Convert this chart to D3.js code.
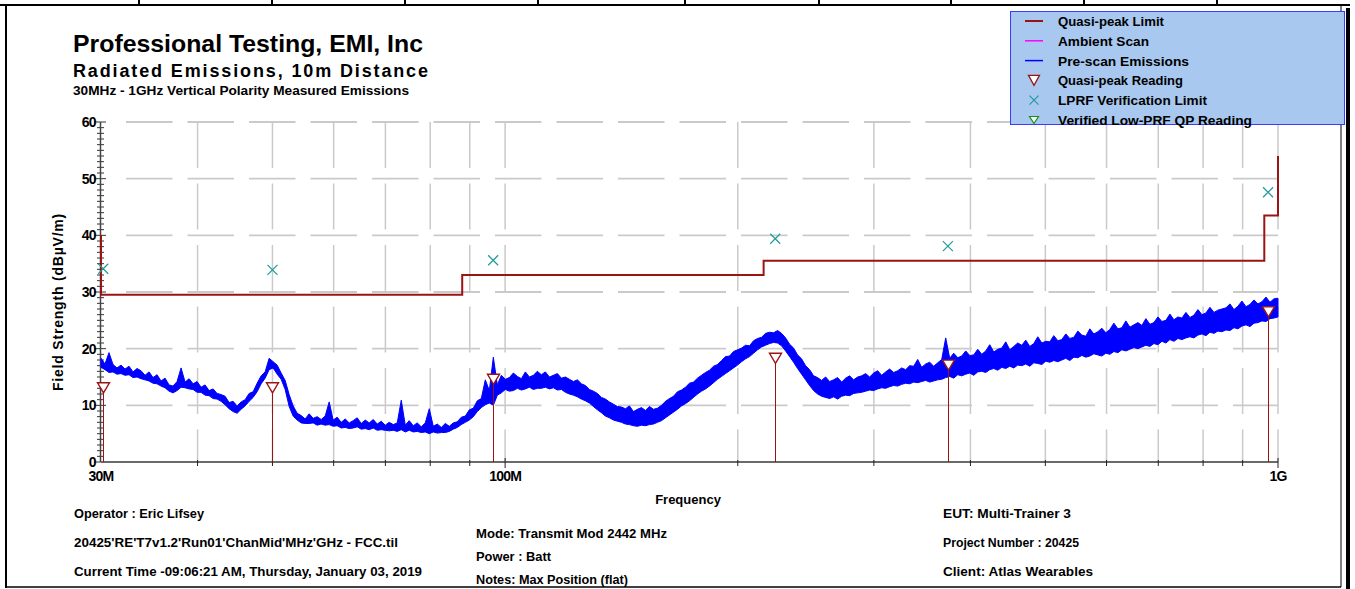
<!DOCTYPE html>
<html>
<head>
<meta charset="utf-8">
<script src="https://cdn.jsdelivr.net/npm/d3@7"></script>
<style>
  body { margin: 0; background: #fff; }
  svg { display: block; }
  text { font-family: "Liberation Sans", Arial, sans-serif; font-weight: bold; fill: #000; }
</style>
</head>
<body>
<svg id="chart" width="1355" height="589"></svg>
<script>
// ---- Data -------------------------------------------------------------
// Quasi-peak limit (step function), MHz / dBuV/m
const limitFreqMHz = [30, 30, 88, 88, 216, 216, 960, 960, 1000, 1000];
const limitDb      = [40, 29.5, 29.5, 33, 33, 35.5, 35.5, 43.5, 43.5, 54];

// Final measurement frequencies (MHz)
const readingFreqMHz = [30.2, 50, 96.5, 223.6, 374, 970.8];
// Quasi-peak readings (dBuV/m)
const qpReadingDb = [13.1, 13.1, 14.6, 18.3, 17.1, 26.5];
// LPRF verification limit at each reading (dBuV/m)
const lprfLimitDb = [34.1, 33.9, 35.6, 39.4, 38.1, 47.6];

// Pre-scan sweep 30 MHz - 1 GHz, peak-detector display bins (log-spaced):
// highest and lowest level seen in each bin (dBuV/m)
const scanStartMHz = 30, scanStopMHz = 1000;
const prescanMaxDb = [
  18.3, 17.3, 19.3, 17.2, 16.6, 17.1, 16.4, 16.9, 15.9, 16.5,
  16.1, 15.3, 15.9, 14.9, 15.4, 14.3, 14.8, 13.6, 13.4, 14.2,
  16.6, 14.1, 14.7, 13.8, 14.2, 13.2, 13.6, 12.6, 12.9, 12.1,
  11.9, 11.6, 10.5, 10.7, 9.9, 10.6, 11.0, 12.1, 12.4, 13.9,
  15.2, 15.9, 18.3, 17.7, 17.1, 15.7, 14.4, 11.9, 9.9, 8.6,
  8.2, 7.6, 8.5, 7.7, 8.0, 7.5, 8.1, 10.6, 7.4, 7.9,
  7.0, 7.6, 6.9, 7.3, 7.8, 6.8, 7.4, 6.9, 7.5, 6.7,
  7.2, 6.5, 7.0, 6.6, 6.9, 10.9, 6.5, 7.3, 6.4, 6.9,
  6.2, 6.9, 9.4, 6.3, 6.7, 6.1, 6.8, 6.3, 6.9, 7.1,
  7.9, 8.1, 9.2, 9.5, 10.8, 11.2, 14.5, 12.6, 18.5, 13.6,
  15.3, 14.6, 14.9, 15.7, 15.1, 14.7, 15.9, 15.0, 15.3, 16.0,
  15.4, 15.9, 15.0, 15.3, 15.6, 14.8, 15.0, 14.6, 14.2, 14.5,
  13.8, 13.5, 12.8, 12.5, 12.1, 11.4, 11.1, 10.6, 10.2, 9.8,
  9.7, 9.4, 9.9, 8.9, 9.3, 9.6, 9.1, 9.8, 9.3, 9.5,
  10.0, 10.7, 11.2, 11.6, 12.4, 12.7, 13.2, 13.9, 14.1, 14.8,
  15.3, 15.8, 16.2, 16.9, 17.2, 17.9, 18.6, 18.7, 19.5, 19.8,
  20.1, 20.6, 20.5, 21.4, 21.8, 22.0, 22.7, 22.9, 22.8, 23.2,
  22.7, 21.9, 20.8, 20.1, 18.9, 18.2, 17.0, 16.3, 15.2, 14.9,
  14.4, 15.0, 14.2, 14.5, 14.9, 14.1, 14.8, 15.2, 14.5, 15.0,
  15.2, 15.6, 15.0, 15.7, 16.1, 15.3, 15.9, 16.4, 15.8, 16.1,
  16.6, 16.3, 17.0, 16.9, 18.1, 16.7, 17.3, 17.6, 16.9, 17.5,
  18.1, 21.9, 18.3, 19.2, 18.4, 18.7, 19.6, 18.8, 18.9, 19.9,
  19.0, 19.6, 20.7, 19.4, 19.9, 20.1, 21.2, 19.8, 20.4, 21.0,
  20.6, 21.5, 20.4, 20.9, 22.1, 21.0, 21.3, 21.2, 22.3, 21.4,
  21.6, 22.6, 21.8, 22.0, 23.1, 22.4, 22.2, 23.5, 22.6, 23.0,
  23.6, 22.8, 23.4, 24.5, 23.5, 23.7, 24.9, 23.8, 24.2, 24.6,
  24.1, 25.3, 24.3, 24.6, 25.6, 24.8, 25.0, 26.1, 25.1, 25.6,
  25.4, 26.4, 25.5, 25.9, 26.9, 26.0, 26.3, 27.3, 26.4, 26.8,
  27.0, 27.2, 27.9, 26.9, 27.5, 28.4, 27.4, 27.8, 28.6, 27.9,
  28.3, 29.1, 28.2, 28.8, 28.9
];
const prescanMinDb = [
  16.7, 16.3, 15.8, 15.9, 15.5, 15.6, 15.3, 15.4, 14.9, 15.0,
  14.7, 14.5, 14.3, 13.9, 13.8, 13.4, 13.1, 12.5, 12.2, 12.6,
  13.2, 13.1, 12.9, 12.8, 12.3, 12.3, 11.8, 11.7, 11.2, 11.1,
  10.7, 10.1, 9.4, 8.9, 8.6, 9.3, 9.9, 10.7, 11.4, 12.4,
  13.8, 14.8, 16.3, 16.6, 15.5, 14.6, 12.8, 9.8, 8.1, 7.4,
  6.9, 6.8, 6.8, 6.9, 6.5, 6.7, 6.5, 6.6, 6.3, 6.4,
  6.0, 6.1, 5.9, 6.0, 6.2, 5.8, 5.9, 5.7, 6.0, 5.6,
  5.7, 5.6, 5.5, 5.6, 5.4, 5.7, 5.3, 5.6, 5.3, 5.4,
  5.2, 5.3, 5.0, 5.3, 5.1, 5.2, 5.2, 5.4, 5.8, 6.1,
  6.6, 7.0, 7.4, 8.0, 8.9, 9.6, 10.1, 10.4, 10.0, 11.8,
  12.2, 12.8, 12.5, 12.6, 13.0, 12.7, 12.9, 13.2, 12.8, 13.0,
  13.0, 13.2, 12.9, 13.1, 12.7, 12.8, 12.3, 12.0, 11.8, 11.5,
  11.1, 10.8, 10.4, 9.8, 9.2, 8.7, 8.1, 7.8, 7.4, 7.2,
  7.0, 6.7, 6.6, 6.4, 6.3, 6.5, 6.4, 6.6, 6.7, 7.0,
  7.3, 7.8, 8.3, 8.8, 9.3, 9.9, 10.3, 10.8, 11.4, 12.0,
  12.5, 12.9, 13.4, 14.0, 14.6, 15.1, 15.6, 16.1, 16.6, 17.1,
  17.7, 18.2, 18.6, 19.2, 19.8, 20.3, 20.6, 20.9, 21.1, 21.0,
  20.5, 19.6, 18.6, 17.6, 16.5, 15.5, 14.5, 13.5, 12.6, 12.0,
  11.6, 11.4, 11.2, 11.5, 11.1, 11.6, 11.8, 11.7, 12.1, 12.2,
  12.3, 12.5, 12.7, 12.6, 12.9, 13.1, 13.0, 13.3, 13.5, 13.4,
  13.7, 13.9, 13.8, 14.1, 14.0, 14.2, 14.4, 14.1, 14.3, 14.5,
  14.6, 14.9, 15.1, 14.8, 15.4, 15.2, 15.5, 15.7, 15.3, 15.9,
  16.0, 15.8, 16.3, 16.5, 16.2, 16.7, 16.5, 16.9, 16.6, 17.1,
  17.0, 17.3, 16.9, 17.5, 17.4, 17.2, 17.8, 17.6, 17.9, 17.7,
  18.0, 18.3, 17.9, 18.5, 18.4, 18.8, 18.5, 18.7, 19.1, 18.9,
  18.7, 19.2, 19.0, 19.5, 19.3, 19.8, 19.6, 19.9, 20.2, 20.0,
  20.3, 20.6, 20.4, 20.9, 20.7, 21.3, 21.0, 21.6, 21.3, 21.8,
  21.6, 21.9, 22.1, 21.9, 22.4, 22.6, 22.3, 22.9, 22.7, 23.1,
  23.0, 23.3, 23.2, 23.7, 23.5, 24.0, 24.2, 23.9, 24.5, 24.6,
  24.9, 24.8, 25.3, 25.4, 25.6
];

// Axis ticks
const yTicks = [0, 10, 20, 30, 40, 50, 60];
const gridFreqMHz = [40, 50, 60, 70, 80, 90, 100, 200, 300, 400, 500, 600, 700, 800, 900, 1000];
const xLabelFreqMHz = [30, 100, 1000];
const xLabelText = ["30M", "100M", "1G"];

// Header / footer text
const titleLines = ["Professional Testing, EMI, Inc", "Radiated Emissions, 10m Distance",
  "30MHz - 1GHz Vertical Polarity Measured Emissions"];
const footerLeft = ["Operator : Eric Lifsey", "20425'RE'T7v1.2'Run01'ChanMid'MHz'GHz - FCC.til",
  "Current Time -09:06:21 AM, Thursday, January 03, 2019"];
const footerMid = ["Mode: Transmit Mod 2442 MHz", "Power : Batt", "Notes: Max Position (flat)"];
const footerRight = ["EUT: Multi-Trainer 3", "Project Number : 20425", "Client: Atlas Wearables"];
const legendLabels = ["Quasi-peak Limit", "Ambient Scan", "Pre-scan Emissions",
  "Quasi-peak Reading", "LPRF Verification Limit", "Verified Low-PRF QP Reading"];

// ---- Drawing ----------------------------------------------------------
const svg = d3.select("#chart");
const x = d3.scaleLog().domain([scanStartMHz, scanStopMHz]).range([101, 1278]);
const y = d3.scaleLinear().domain([0, 60]).range([462, 122]);

const RED = "#9a1414", BLUE = "#0000ff", TEAL = "#1f9a9a", GRID = "#cacaca";

// fixed-width text helper (report fonts are condensed/spaced differently)
const fitText = (g, t, px, py, size, width, adjust) =>
  g.append("text").attr("x", px).attr("y", py).style("font-size", size + "px")
    .attr("textLength", width).attr("lengthAdjust", adjust || "spacingAndGlyphs").text(t);

// page frame
const frame = svg.append("g");
frame.append("line").attr("x1", 0).attr("x2", 1350).attr("y1", 5).attr("y2", 5)
  .attr("stroke", "#000").attr("stroke-width", 2);
[139, 272, 405, 538, 685, 819, 951, 1084, 1217].forEach(px => {
  frame.append("line").attr("x1", px).attr("x2", px).attr("y1", 0).attr("y2", 5)
    .attr("stroke", "#000").attr("stroke-width", 2);
});
frame.append("line").attr("x1", 6).attr("x2", 6).attr("y1", 5).attr("y2", 588)
  .attr("stroke", "#000").attr("stroke-width", 2);
frame.append("line").attr("x1", 6).attr("x2", 1341).attr("y1", 587).attr("y2", 587)
  .attr("stroke", "#000").attr("stroke-width", 1.5);
frame.append("line").attr("x1", 1341).attr("x2", 1341).attr("y1", 5).attr("y2", 587)
  .attr("stroke", "#000").attr("stroke-width", 1);
frame.append("rect").attr("x", 1346).attr("y", 8).attr("width", 4).attr("height", 581).attr("fill", "#000");

// titles
fitText(svg, titleLines[0], 73, 52, 24.5, 350);
fitText(svg, titleLines[1], 73, 77, 18, 355, "spacing");
fitText(svg, titleLines[2], 73, 95, 13.2, 336);

// grid
const grid = svg.append("g");
gridFreqMHz.forEach(f => {
  grid.append("line").attr("x1", x(f)).attr("x2", x(f)).attr("y1", y(60)).attr("y2", y(0))
    .attr("stroke", GRID).attr("stroke-width", 1.5).attr("stroke-dasharray", "46,15.5");
});
yTicks.filter(v => v > 0).forEach(v => {
  grid.append("line").attr("x1", 126).attr("x2", x(1000)).attr("y1", y(v)).attr("y2", y(v))
    .attr("stroke", GRID).attr("stroke-width", 1.8).attr("stroke-dasharray", "46.5,15");
});

// y axis with 1 dB minor ticks
const yAxisG = svg.append("g");
d3.range(0, 61).forEach(v => {
  const major = v % 10 === 0;
  yAxisG.append("line").attr("x1", major ? 94 : 97).attr("x2", major ? 106 : 104)
    .attr("y1", y(v)).attr("y2", y(v)).attr("stroke", "#333").attr("stroke-width", 1);
});
yAxisG.append("line").attr("x1", 100.5).attr("x2", 100.5).attr("y1", y(60)).attr("y2", y(0))
  .attr("stroke", "#444").attr("stroke-width", 1.5);
yAxisG.selectAll("text.ytick").data(yTicks).join("text").attr("class", "ytick")
  .attr("x", 96).attr("y", d => y(d) + 5).attr("text-anchor", "end")
  .style("font-size", "14px").style("letter-spacing", "-0.6px").text(d => d);

// x axis
const xAxisG = svg.append("g");
xAxisG.append("line").attr("x1", x(30)).attr("x2", x(1000)).attr("y1", 462).attr("y2", 462)
  .attr("stroke", "#6a6a6a").attr("stroke-width", 2);
gridFreqMHz.forEach(f => {
  const decade = f === 100 || f === 1000;
  xAxisG.append("line").attr("x1", x(f)).attr("x2", x(f)).attr("y1", decade ? 458 : 460)
    .attr("y2", decade ? 468 : 466).attr("stroke", "#222").attr("stroke-width", 1);
});
xAxisG.selectAll("text.xtick").data(xLabelFreqMHz).join("text").attr("class", "xtick")
  .attr("x", d => x(d)).attr("y", 481).attr("text-anchor", "middle")
  .style("font-size", "14px").style("letter-spacing", "-0.8px").text((d, i) => xLabelText[i]);

// axis titles
svg.append("text").attr("x", 688).attr("y", 504).attr("text-anchor", "middle")
  .style("font-size", "13px").text("Frequency");
svg.append("text").attr("transform", "translate(63,302) rotate(-90)").attr("text-anchor", "middle")
  .style("font-size", "14px").style("letter-spacing", "0.8px").text("Field Strength (dBµV/m)");

// pre-scan trace: filled min/max band per sweep bin
const binFreq = prescanMaxDb.map((_, i) =>
  scanStartMHz * Math.pow(scanStopMHz / scanStartMHz, i / (prescanMaxDb.length - 1)));
const band = d3.area().x((d, i) => x(binFreq[i])).y0((d, i) => y(prescanMinDb[i])).y1(d => y(d));
svg.append("path").datum(prescanMaxDb).attr("d", band)
  .attr("fill", BLUE).attr("stroke", BLUE).attr("stroke-width", 1).attr("stroke-linejoin", "miter");

// quasi-peak limit
const limitLine = d3.line().x((d, i) => x(limitFreqMHz[i])).y(d => y(d));
svg.append("path").datum(limitDb).attr("d", limitLine)
  .attr("fill", "none").attr("stroke", RED).attr("stroke-width", 2);

// LPRF verification limit markers
const cross = (g, cx, cy, r, color) => {
  g.append("path").attr("d", `M${cx - r},${cy - r}L${cx + r},${cy + r}M${cx - r},${cy + r}L${cx + r},${cy - r}`)
    .attr("stroke", color).attr("stroke-width", 1.2).attr("fill", "none");
};
const marks = svg.append("g");
readingFreqMHz.forEach((f, i) => cross(marks, x(f), y(lprfLimitDb[i]), 5, TEAL));

// quasi-peak readings: stem + downward triangle
const tri = (cx, cy, w, h) => `M${cx - w / 2},${cy - h / 2}L${cx + w / 2},${cy - h / 2}L${cx},${cy + h / 2}Z`;
readingFreqMHz.forEach((f, i) => {
  const cx = Math.round(x(f)) + 0.5, cy = y(qpReadingDb[i]);
  marks.append("line").attr("x1", cx).attr("x2", cx).attr("y1", cy + 5).attr("y2", y(0))
    .attr("stroke", RED).attr("stroke-width", 1);
  marks.append("path").attr("d", tri(cx, cy, 12, 10)).attr("fill", "#fff")
    .attr("stroke", RED).attr("stroke-width", 1.4);
});

// legend
const lg = svg.append("g");
lg.append("rect").attr("x", 1010.5).attr("y", 11.5).attr("width", 334).attr("height", 113)
  .attr("fill", "#a8c8ef").attr("stroke", "#3b3bff").attr("stroke-width", 1);
const rowY = i => 21 + i * 19.8;
const symX = 1034;
lg.append("line").attr("x1", symX - 9).attr("x2", symX + 9).attr("y1", rowY(0)).attr("y2", rowY(0))
  .attr("stroke", RED).attr("stroke-width", 2);
lg.append("line").attr("x1", symX - 9).attr("x2", symX + 9).attr("y1", rowY(1)).attr("y2", rowY(1))
  .attr("stroke", "#ff00ff").attr("stroke-width", 1.5);
lg.append("line").attr("x1", symX - 9).attr("x2", symX + 9).attr("y1", rowY(2)).attr("y2", rowY(2))
  .attr("stroke", BLUE).attr("stroke-width", 1.5);
lg.append("path").attr("d", tri(symX, rowY(3), 11, 10)).attr("fill", "#fff")
  .attr("stroke", RED).attr("stroke-width", 1.3);
cross(lg, symX, rowY(4), 4.5, TEAL);
lg.append("path").attr("d", tri(symX, rowY(5), 9, 7)).attr("fill", "#fff")
  .attr("stroke", "#109010").attr("stroke-width", 1.2);
const legendWidths = [106, 91, 131, 125, 149, 194];
legendLabels.forEach((t, i) => fitText(lg, t, 1058, rowY(i) + 5, 13.5, legendWidths[i]));

// footer
const foot = svg.append("g");
const leftW = [130, 324, 348], midW = [191, 75, 152], rightW = [128, 136, 150];
footerLeft.forEach((t, i) => fitText(foot, t, 74, [518, 547, 576][i], 13, leftW[i]));
footerMid.forEach((t, i) => fitText(foot, t, 476, [538, 561, 584][i], 13, midW[i]));
footerRight.forEach((t, i) => fitText(foot, t, 943, [518, 547, 576][i], 13, rightW[i]));
</script>
</body>
</html>
